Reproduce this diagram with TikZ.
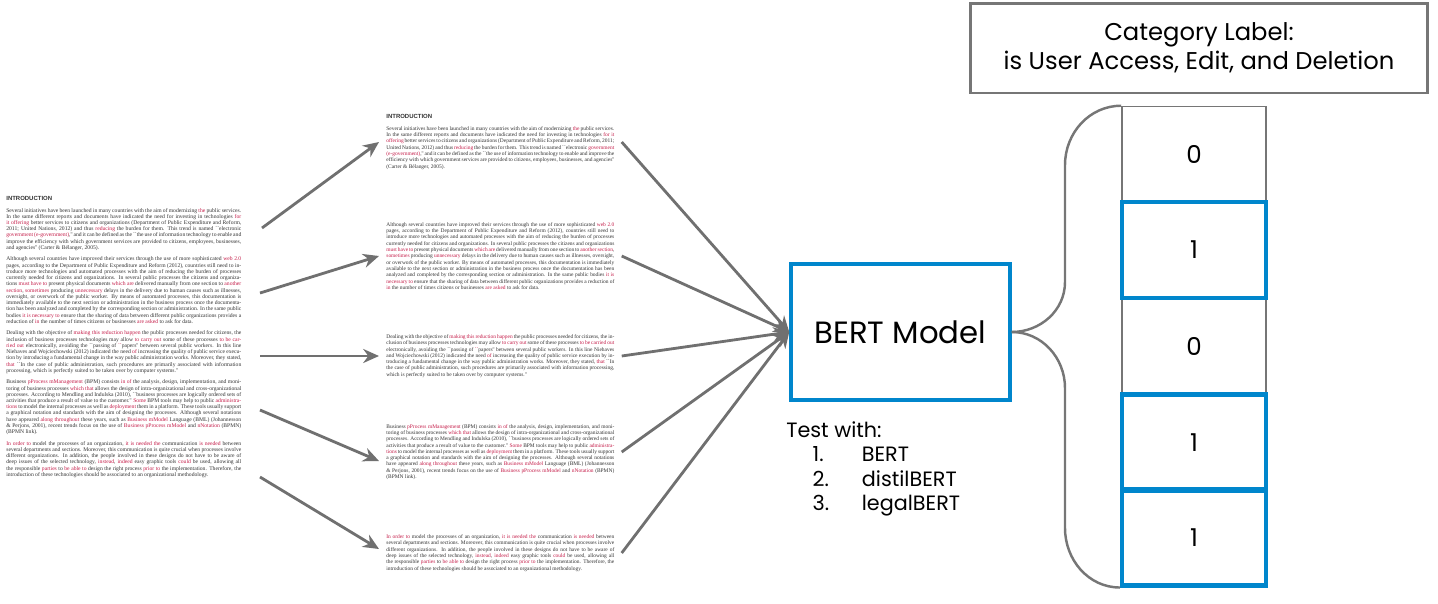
\documentclass[tikz,border=0pt]{standalone}
\usepackage{fontspec}
\setmainfont{Poppins}
\newfontfamily\docserif{Liberation Serif}
\newfontfamily\docsans{Liberation Sans}
\usetikzlibrary{positioning,calc,arrows.meta}

\definecolor{bertblue}{RGB}{0,134,204}
\definecolor{linegray}{RGB}{118,118,118}
\definecolor{arrowgray}{RGB}{112,112,112}
\definecolor{docred}{RGB}{196,28,72}
\definecolor{doctext}{RGB}{50,50,50}

% tracked changes in the pasted pages
\newcommand{\rd}[1]{\textcolor{docred}{#1}}
\newcommand{\dochead}{{\docsans\bfseries\fontsize{3.4}{4}\selectfont INTRODUCTION}\par\vspace{3pt}}

\newcommand{\paraA}{Several initiatives have been launched in many countries with the aim of modernizing \rd{the} public services. In the same different reports and documents have indicated the need for investing in technologies \rd{for it} \rd{offering} better services to citizens and organizations (Department of Public Expenditure and Reform, 2011; United Nations, 2012) and thus \rd{reducing} the burden for them. This trend is named ``electronic \rd{government (e-government)},'' and it can be defined as the ``the use of information technology to enable and improve the efficiency with which government services are provided to citizens, employees, businesses, and agencies'' (Carter \& Bélanger, 2005).}

\newcommand{\paraB}{Although several countries have improved their services through the use of more sophisticated \rd{web 2.0} pages, according to the Department of Public Expenditure and Reform (2012), countries still need to introduce more technologies and automated processes with the aim of reducing the burden of processes currently needed for citizens and organizations. In several public processes the citizens and organizations \rd{must have to} present physical documents \rd{which are} delivered manually from one section to \rd{another section}, \rd{sometimes} producing \rd{unnecessary} delays in the delivery due to human causes such as illnesses, oversight, or overwork of the public worker. By means of automated processes, this documentation is immediately available to the next section or administration in the business process once the documentation has been analyzed and completed by the corresponding section or administration. In the same public bodies \rd{it is necessary to} ensure that the sharing of data between different public organizations provides a reduction of \rd{in} the number of times citizens or businesses \rd{are asked} to ask for data.}

\newcommand{\paraC}{Dealing with the objective of \rd{making this reduction} \rd{happen} the public processes needed for citizens, the inclusion of business processes technologies may allow \rd{to carry out} some of these processes \rd{to be carried out} electronically, avoiding the ``passing of \rd{``}papers'' between several public workers. In this line Niehaves and Wojciechowski (2012) indicated the need \rd{of} increasing the quality of public service execution by introducing a fundamental change in the way public administration works. Moreover, they stated, \rd{that} ``In the case of public administration, such procedures are primarily associated with information processing, which is perfectly suited to be taken over by computer systems.''}

\newcommand{\paraD}{Business \rd{pProcess} \rd{mManagement} (BPM) consists \rd{in of} the analysis, design, implementation, and monitoring of business processes \rd{which that} allows the design of intra-organizational and cross-organizational processes. According to Mendling and Indulska (2010), ``business processes are logically ordered sets of activities that produce a result of value to the customer.'' \rd{Some} BPM tools may help to public \rd{administrations} to model the internal processes as well as \rd{deployment} them in a platform. These tools usually support a graphical notation and standards with the aim of designing the processes. Although several notations have appeared \rd{along throughout} these years, such as \rd{Business} \rd{mModel} Language (BML) (Johannesson \& Perjons, 2001), recent trends focus on the use of \rd{Business} \rd{pProcess} \rd{mModel} and \rd{nNotation} (BPMN) (BPMN link).}

\newcommand{\paraE}{\rd{In order to} model the processes of an organization, \rd{it is needed the} communication \rd{is needed} between several departments and sections. Moreover, this communication is quite crucial when processes involve different organizations. In addition, the people involved in these designs do not have to be aware of deep issues of the selected technology, \rd{instead}, \rd{indeed} easy graphic tools \rd{could} be used, allowing all the responsible \rd{parties} to \rd{be able to} design the right process \rd{prior to} the implementation. Therefore, the introduction of these technologies should be associated to an organizational methodology.}

\begin{document}
\begin{tikzpicture}[
    x=0.02cm, y=-0.02cm,
    leftdoc/.style={inner sep=0pt, anchor=north west, text width=4.7cm, align=justify, text=doctext, font=\docserif\fontsize{3.2}{3.55}\selectfont},
    middoc/.style={inner ysep=0pt, inner xsep=4pt, anchor=west, text width=4.56cm, align=justify, text=doctext, font=\docserif\fontsize{3.1}{3.6}\selectfont},
    arrow/.style={-{Stealth[length=9pt,width=8pt]}, line width=1.6pt, draw=arrowgray},
    bertbox/.style={rectangle, draw=bertblue, line width=2pt, minimum width=4.38cm, minimum height=2.72cm, font=\fontsize{17.5}{20}\selectfont},
    cell/.style={rectangle, draw=linegray, line width=0.9pt, minimum width=2.88cm, minimum height=1.92cm, font=\fontsize{14}{16}\selectfont},
    hotcell/.style={cell, draw=bertblue, line width=2.3pt},
    labelbox/.style={rectangle, draw=linegray, line width=1.7pt, minimum width=9.16cm, minimum height=1.8cm, align=center, font=\fontsize{13.8}{16.5}\selectfont},
    brace/.style={draw=linegray, line width=1.4pt}
]
\useasboundingbox (0,0) rectangle (1438,603);

% Full source page
\node[leftdoc] (page) at (6,196) {\dochead\paraA\par\vspace{3pt}\paraB\par\vspace{3pt}\paraC\par\vspace{3pt}\paraD\par\vspace{3pt}\paraE};

% Split paragraphs
\node[middoc] (d1) at (379,142) {\dochead\paraA};
\node[middoc] (d2) at (379,256) {\paraB};
\node[middoc] (d3) at (379,356) {\paraC};
\node[middoc] (d4) at (379,452) {\paraD};
\node[middoc] (d5) at (379,553) {\paraE};

% Model
\node[bertbox] (bert) at (900.5,332) {BERT Model};
\node[anchor=north west, align=left, inner sep=0pt, font=\fontsize{11.8}{14}\selectfont] (tests) at (786,421) {Test with:\\
    \hspace*{15pt}\makebox[28pt][l]{1.}BERT\\
    \hspace*{15pt}\makebox[28pt][l]{2.}distilBERT\\
    \hspace*{15pt}\makebox[28pt][l]{3.}legalBERT};

% Category label
\node[labelbox] (category) at (1199,48) {Category Label:\\is User Access, Edit, and Deletion};

% Output cells
\node[cell] (c1) at (1194,154.5) {0};
\node[cell] (c3) at (1194,346.5) {0};
\node[hotcell] (c2) at (1194,250) {1};
\node[hotcell] (c4) at (1194,442.5) {1};
\node[hotcell] (c5) at (1194,537.5) {1};

% Splitting arrows
\coordinate (s1) at (262,228);
\coordinate (s2) at (260,293);
\coordinate (s3) at (260,356);
\coordinate (s4) at (260,410);
\coordinate (s5) at (260,477);
\draw[arrow] (s1) -- (d1.west);
\draw[arrow] (s2) -- (d2.west);
\draw[arrow] (s3) -- (d3.west);
\draw[arrow] (s4) -- ($(d4.west)+(0,9)$);
\draw[arrow] (s5) -- ($(d5.west)+(0,-4)$);

% Into the model
\draw[arrow] (d1.east) -- (bert.west);
\draw[arrow] (d2.east) -- (bert.west);
\draw[arrow] (d3.east) -- (bert.west);
\draw[arrow] (d4.east) -- (bert.west);
\draw[arrow] (d5.east) -- (bert.west);

% Brace
\draw[brace] (bert.east) to[out=0,in=-90] (1065,282) -- (1065,165) to[out=90,in=180] (c1.north west);
\draw[brace] (bert.east) to[out=0,in=90] (1065,388) -- (1065,528) to[out=-90,in=180] (c5.south west);

\end{tikzpicture}
\end{document}
